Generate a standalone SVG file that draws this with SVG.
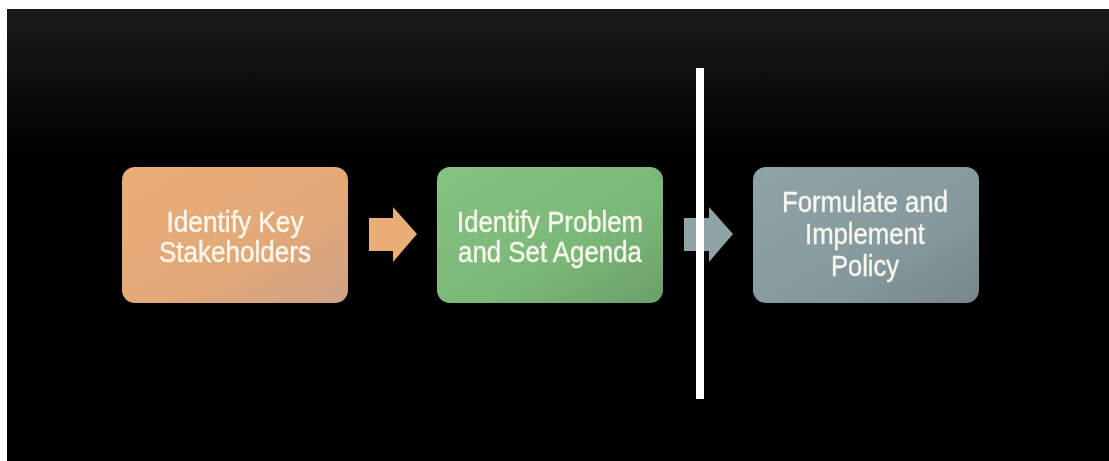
<svg xmlns="http://www.w3.org/2000/svg" width="1109" height="461" viewBox="0 0 1109 461">
  <defs>
    <linearGradient id="sky" x1="0" y1="0" x2="0" y2="1">
      <stop offset="0" stop-color="#1b1b1b"/>
      <stop offset="0.2" stop-color="#0a0a0a"/>
      <stop offset="0.32" stop-color="#000"/>
      <stop offset="1" stop-color="#000"/>
    </linearGradient>
    <linearGradient id="gOrange" x1="0" y1="0" x2="1" y2="1">
      <stop offset="0" stop-color="#e9ad77"/>
      <stop offset="0.6" stop-color="#e2a877"/>
      <stop offset="1" stop-color="#cfa286"/>
    </linearGradient>
    <linearGradient id="gGreen" x1="0" y1="0" x2="1" y2="1">
      <stop offset="0" stop-color="#86c383"/>
      <stop offset="0.6" stop-color="#7bb878"/>
      <stop offset="1" stop-color="#6b9f69"/>
    </linearGradient>
    <linearGradient id="gGray" x1="0" y1="0" x2="1" y2="1">
      <stop offset="0" stop-color="#8fa4a7"/>
      <stop offset="0.6" stop-color="#86999c"/>
      <stop offset="1" stop-color="#75878a"/>
    </linearGradient>
    <filter id="soft" x="-5%" y="-5%" width="110%" height="110%">
      <feGaussianBlur stdDeviation="0.6"/>
    </filter>
    <filter id="textSoft" x="-5%" y="-20%" width="110%" height="140%">
      <feGaussianBlur stdDeviation="0.35"/>
    </filter>
  </defs>
  <style>
    .label { font-family: "Liberation Sans", Arial, sans-serif; font-size: 30px; fill: #f8f7ef; stroke: #f8f7ef; stroke-width: 0.4px; text-anchor: middle; }
  </style>

  <!-- backdrop -->
  <rect x="0" y="0" width="1109" height="461" fill="#ffffff"/>
  <rect x="7" y="9" width="1102" height="452" fill="url(#sky)"/>

  <!-- step boxes -->
  <g id="node-stakeholders">
    <rect x="122" y="167" width="226" height="136" rx="13" fill="url(#gOrange)" filter="url(#soft)"/>
    <g filter="url(#textSoft)">
      <text class="label" x="235" y="232" textLength="137" lengthAdjust="spacingAndGlyphs">Identify Key</text>
      <text class="label" x="235" y="262" textLength="152" lengthAdjust="spacingAndGlyphs">Stakeholders</text>
    </g>
  </g>
  <g id="node-problem">
    <rect x="437" y="167" width="226" height="136" rx="13" fill="url(#gGreen)" filter="url(#soft)"/>
    <g filter="url(#textSoft)">
      <text class="label" x="550" y="232" textLength="186" lengthAdjust="spacingAndGlyphs">Identify Problem</text>
      <text class="label" x="550" y="262" textLength="184" lengthAdjust="spacingAndGlyphs">and Set Agenda</text>
    </g>
  </g>
  <g id="node-policy">
    <rect x="753" y="167" width="226" height="136" rx="13" fill="url(#gGray)" filter="url(#soft)"/>
    <g filter="url(#textSoft)">
      <text class="label" x="865" y="212" textLength="166" lengthAdjust="spacingAndGlyphs">Formulate and</text>
      <text class="label" x="865" y="244" textLength="120" lengthAdjust="spacingAndGlyphs">Implement</text>
      <text class="label" x="865" y="276" textLength="68" lengthAdjust="spacingAndGlyphs">Policy</text>
    </g>
  </g>

  <!-- connectors -->
  <g id="connectors" filter="url(#soft)">
    <polygon points="369,218 393,218 393,207 417,234 393,262 393,251 369,251" fill="#e9ad76"/>
    <polygon points="684,218 709,218 709,207 733,234 709,262 709,251 684,251" fill="#8fa4a7"/>
  </g>

  <!-- divider -->
  <g id="divider">
    <rect x="696" y="68" width="8" height="331" fill="#ffffff" filter="url(#soft)"/>
  </g>
</svg>
